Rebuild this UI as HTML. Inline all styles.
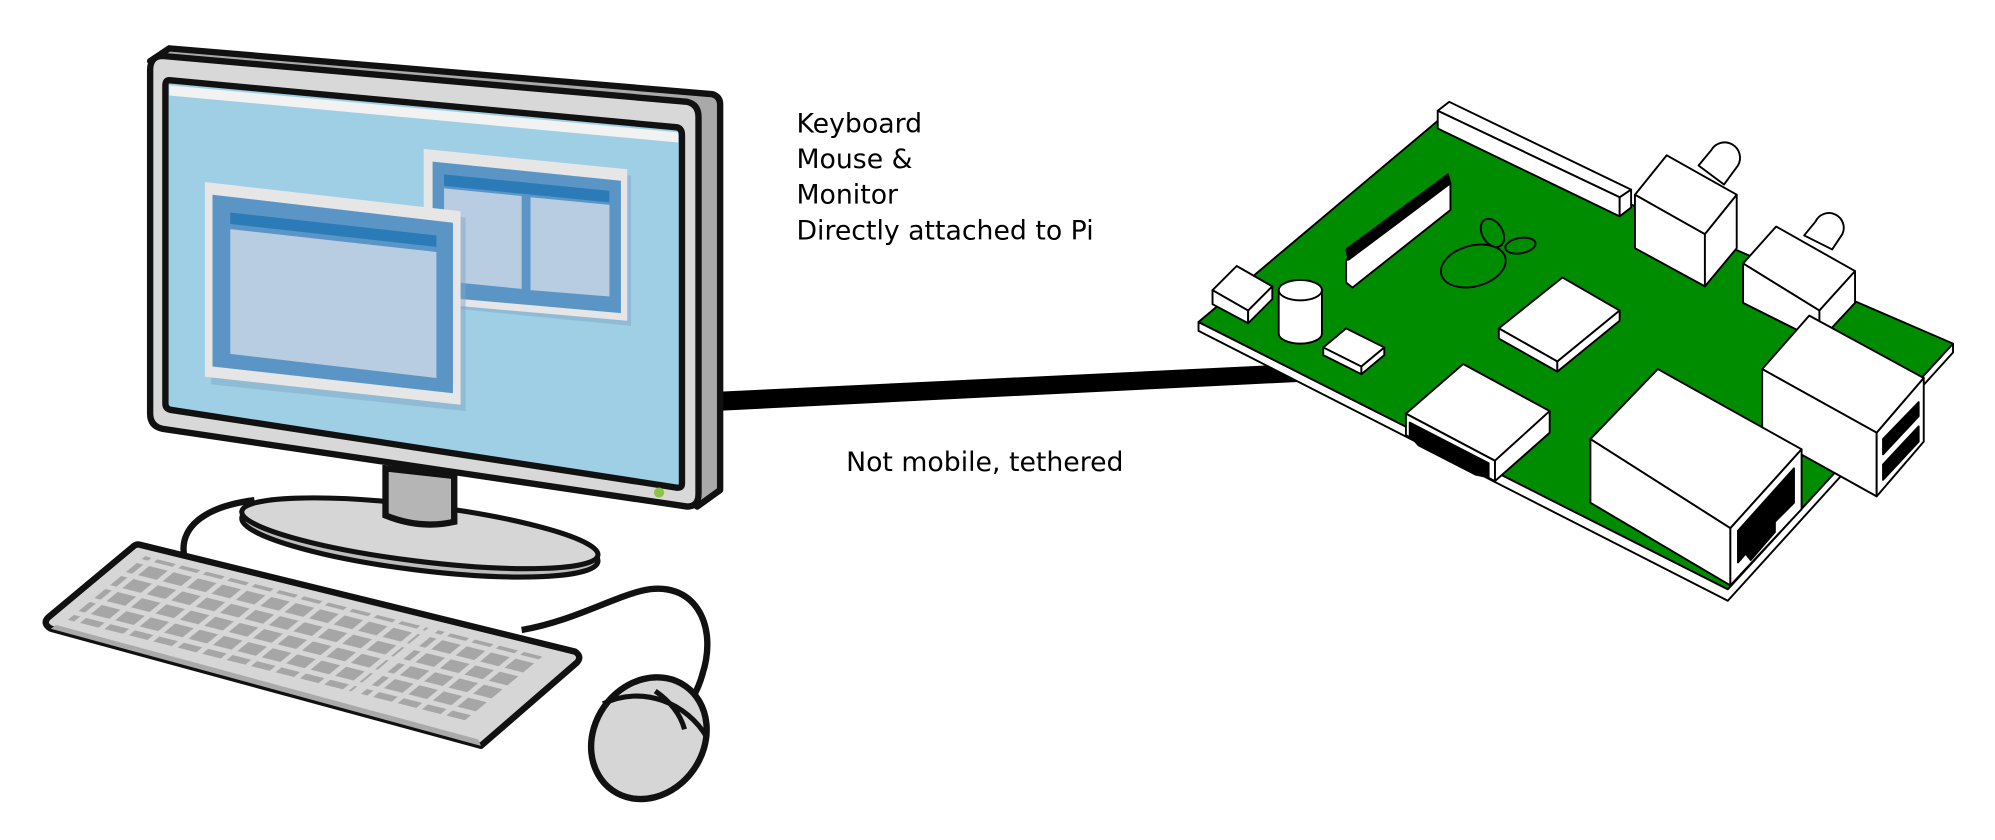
<!DOCTYPE html>
<html><head><meta charset="utf-8"><style>html,body{margin:0;padding:0;background:#fff}svg{display:block}</style></head>
<body>
<svg width="1995" height="840" viewBox="0 0 1568 660" preserveAspectRatio="none" xmlns="http://www.w3.org/2000/svg">
<defs>
<pattern id="keys" x="0" y="0" width="1" height="1" patternUnits="userSpaceOnUse">
<rect x="0.1" y="0.12" width="0.76" height="0.7" fill="#a6a6a6"/>
</pattern>
</defs>
<rect width="1568" height="660" fill="#fff"/>
<polygon points="560,308 1020,286 1022,300 560,323" fill="#000"/>
<path d="M118,48 L133,38 L560,74 Q566,76 566,82 L566,385 L548,398 Z" fill="#a9a9a9" stroke="#111" stroke-width="5" stroke-linejoin="round"/>
<path d="M128,44 L540,80 Q549,82 549,92 L549,388 Q549,398 540,398 L128,337 Q118,335 118,325 L118,55 Q118,44 128,44 Z" fill="#d8d8d8" stroke="#111" stroke-width="5"/>
<path d="M133,63 L532,100 Q536,101 536,106 L536,380 Q536,384 531,383 L134,322 Q130,321 130,317 L130,67 Q130,63 133,63 Z" fill="#9ecfe5" stroke="#111" stroke-width="5"/>
<polygon points="133,67 533,104 533,112 133,75" fill="#f2f2f2"/>
<circle cx="518" cy="387" r="4" fill="#8bc34a"/>
<polygon points="338,122 496,138 496,256 342,241" fill="#7fa7c9" opacity="0.5"/>
<polygon points="333,117 493,133 493,252 333,238" fill="#e6e6e6"/>
<polygon points="340,127 488,142 488,246 340,233" fill="#5b95c5"/>
<polygon points="349,137 479,150 479,159 349,146" fill="#2b7bb9"/>
<polygon points="349,148 410,154 410,227 349,221" fill="#b9cde2"/>
<polygon points="417,155 479,161 479,233 417,228" fill="#b9cde2"/>
<polygon points="166,149 366,171 366,323 166,302" fill="#7fa7c9" opacity="0.5"/>
<polygon points="161,143 362,166 362,318 161,296" fill="#e6e6e6"/>
<polygon points="167,153 356,175 356,309 167,288" fill="#5b95c5"/>
<polygon points="181,167 343,185 343,194 181,176" fill="#2b7bb9"/>
<polygon points="181,180 343,198 343,297 181,278" fill="#b9cde2"/>
<path d="M200,393 C160,398 140,415 145,438" fill="none" stroke="#111" stroke-width="5"/>
<ellipse cx="330" cy="424" rx="141" ry="24" transform="rotate(7 330 424)" fill="#bdbdbd" stroke="#111" stroke-width="4"/>
<ellipse cx="330" cy="419" rx="141" ry="22" transform="rotate(7 330 419)" fill="#d6d6d6" stroke="#111" stroke-width="4"/>
<path d="M303,368 L303,405 Q330,416 357,410 L357,374 Z" fill="#b5b5b5" stroke="#111" stroke-width="5"/>
<path d="M110,428 L452,512 Q458,516 453,521 L378,586 L40,494 Q33,490 38,485 L104,430 Q107,427 110,428 Z" fill="#d6d6d6" stroke="#111" stroke-width="5" stroke-linejoin="round"/>
<path d="M40,494 L378,586 L376,581 L44,491 Z" fill="#aaa"/>
<g transform="matrix(19.2,4.85,-12.4,10.2,110,428)">
<rect x="0.6" y="0.6" width="11.6" height="4.9" fill="url(#keys)"/>
<rect x="12.6" y="0.6" width="4.3" height="4.9" fill="url(#keys)"/>
</g>
<path d="M410,495 C450,488 480,470 505,464 C545,455 565,490 552,530 C548,545 540,555 535,562" fill="none" stroke="#111" stroke-width="5"/>
<ellipse cx="510" cy="580" rx="50" ry="43" transform="rotate(-55 510 580)" fill="#d6d6d6" stroke="#111" stroke-width="5"/>
<path d="M474,553 C505,538 540,552 556,580" fill="none" stroke="#111" stroke-width="4"/>
<path d="M515,543 C528,552 535,562 538,573" fill="none" stroke="#111" stroke-width="4"/>
<g font-family="'DejaVu Sans','Liberation Sans',sans-serif" font-size="21" fill="#000">
<text x="626" y="104">Keyboard</text>
<text x="626" y="132">Mouse &amp;</text>
<text x="626" y="160">Monitor</text>
<text x="626" y="188">Directly attached to Pi</text>
<text x="665" y="370">Not mobile, tethered</text>
</g>
<g stroke="#000" stroke-width="1.5" stroke-linejoin="round">
<polygon points="942,253 942,260 1358,472 1535,277 1535,270 1358,463" fill="#fff"/>
<polygon points="942,253 1130,95 1535,270 1358,463" fill="#008c00"/>
<polygon points="1130,87 1139,80 1282,149 1273,155" fill="#fff"/>
<polygon points="1130,87 1273,155 1273,170 1130,101" fill="#fff"/>
<polygon points="1273,155 1282,149 1282,163 1273,170" fill="#fff"/>
<polygon points="1058,196 1138,137 1140,144 1060,204" fill="#000"/>
<polygon points="1058,204 1060,204 1140,144 1140,165 1063,226 1058,222" fill="#fff"/>
<ellipse cx="1158" cy="209" rx="26" ry="16" transform="rotate(-15 1158 209)" fill="none"/>
<ellipse cx="1173" cy="183" rx="8" ry="12" transform="rotate(-30 1173 183)" fill="none"/>
<ellipse cx="1195" cy="193" rx="12" ry="6" transform="rotate(-10 1195 193)" fill="none"/>
<polygon points="953,228 972,209 1000,225 981,244" fill="#fff"/>
<polygon points="953,228 981,244 981,254 953,239" fill="#fff"/>
<polygon points="981,244 1000,225 1000,235 981,254" fill="#fff"/>
<path d="M1005,228 L1005,262 A17,8 0 0 0 1039,262 L1039,228" fill="#fff"/>
<ellipse cx="1022" cy="228" rx="17" ry="8" fill="#fff"/>
<polygon points="1040,273 1058,258 1088,273 1070,288" fill="#fff"/>
<polygon points="1040,273 1070,288 1070,294 1040,279" fill="#fff"/>
<polygon points="1070,288 1088,273 1088,279 1070,294" fill="#fff"/>
<polygon points="1178,258 1228,218 1273,244 1224,284" fill="#fff"/>
<polygon points="1178,258 1224,284 1224,292 1178,266" fill="#fff"/>
<polygon points="1224,284 1273,244 1273,252 1224,292" fill="#fff"/>
<path d="M1335,130 L1345,118 A12,12 0 0 1 1366,130 L1355,145 Z" fill="#fff"/>
<polygon points="1285,153 1310,122 1365,153 1340,184" fill="#fff"/>
<polygon points="1285,153 1340,184 1340,225 1285,195" fill="#fff"/>
<polygon points="1340,184 1365,153 1365,195 1340,225" fill="#fff"/>
<path d="M1418,185 L1427,174 A10,10 0 0 1 1448,184 L1440,196 Z" fill="#fff"/>
<polygon points="1370,207 1396,178 1458,213 1430,244" fill="#fff"/>
<polygon points="1370,207 1430,244 1430,268 1370,238" fill="#fff"/>
<polygon points="1430,244 1458,213 1458,238 1430,268" fill="#fff"/>
<polygon points="1385,290 1422,248 1512,297 1475,340" fill="#fff"/>
<polygon points="1385,290 1475,340 1475,390 1385,340" fill="#fff"/>
<polygon points="1475,340 1512,297 1512,347 1475,390" fill="#fff"/>
<polygon points="1480,345 1508,316 1508,327 1480,357" fill="#000"/>
<polygon points="1480,365 1508,335 1508,347 1480,377" fill="#000"/>
<polygon points="1250,345 1303,290 1416,353 1360,415" fill="#fff"/>
<polygon points="1250,345 1360,415 1360,460 1250,395" fill="#fff"/>
<polygon points="1360,415 1416,353 1416,400 1360,460" fill="#fff"/>
<polygon points="1366,417 1410,368 1410,395 1395,410 1395,418 1376,440 1372,435 1366,442" fill="#000"/>
<polygon points="1105,325 1150,286 1218,323 1175,362" fill="#fff"/>
<polygon points="1105,325 1175,362 1175,378 1105,342" fill="#fff"/>
<polygon points="1175,362 1218,323 1218,340 1175,378" fill="#fff"/>
<polygon points="1108,332 1170,364 1170,375 1160,373 1115,350 1108,342" fill="#000"/>
</g>
</svg>
</body></html>
